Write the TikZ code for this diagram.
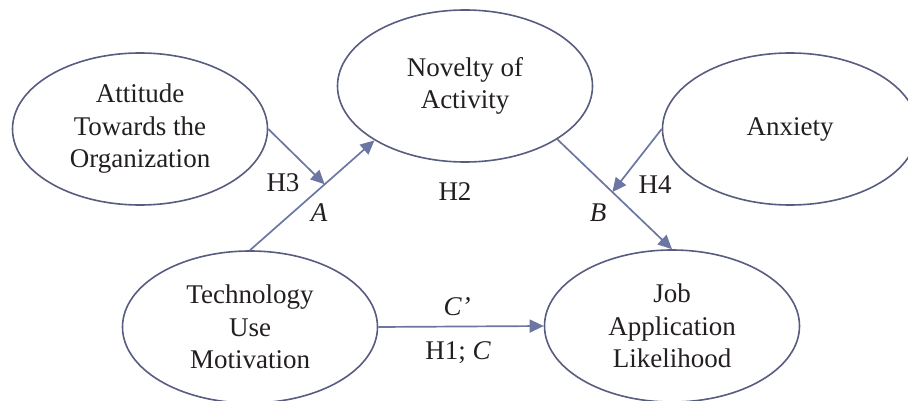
\documentclass[tikz,border=0pt]{standalone}
\usepackage{fontspec}
\setmainfont{Liberation Serif}
\usetikzlibrary{shapes.geometric,arrows.meta,calc}
\definecolor{ellcol}{RGB}{88,92,128}
\definecolor{arrcol}{RGB}{108,118,162}
\definecolor{txtcol}{RGB}{35,31,32}
\tikzset{
  construct/.style={ellipse, draw=ellcol, line width=1.6pt, minimum width=255pt, minimum height=152pt, inner sep=0pt, align=center, text=txtcol, font=\fontsize{27}{32.5}\selectfont},
  link/.style={draw=arrcol, line width=1.7pt, -{Triangle[length=14pt,width=13pt]}},
  lbl/.style={text=txtcol, inner sep=0pt, font=\fontsize{27}{31}\selectfont}
}
\begin{document}
\begin{tikzpicture}[x=1pt,y=-1pt]
\useasboundingbox (0,0) rectangle (908,401);
\clip (0,0) rectangle (908,401);
\node[construct] (att) at (140,129) {Attitude\\Towards the\\Organization};
\node[construct] (nov) at (465,86) {Novelty of\\Activity};
\node[construct] (anx) at (790,129) {Anxiety};
\node[construct] (tech) at (250,327) {Technology\\Use\\Motivation};
\node[construct] (job) at (672,326) {Job\\Application\\Likelihood};
\coordinate (pa) at ($(tech.north)!0.6!(nov.211)$);
\coordinate (pb) at ($(nov.330)!0.48!(job.north)$);
\draw[link] (tech.north) -- (nov.211);
\draw[link] (att.east) -- (pa);
\draw[link] (nov.330) -- (job.north);
\draw[link] (anx.west) -- (pb);
\draw[link] (tech.east) -- (job.west);
\node[lbl] (h3) at (283,183) {H3};
\node[lbl] (la) at (319,213) {\itshape A};
\node[lbl] (h2) at (455,192) {H2};
\node[lbl] (h4) at (655,185) {H4};
\node[lbl] (lb) at (598,213) {\itshape B};
\node[lbl] (lc) at (457,307) {\itshape C’};
\node[lbl] (h1) at (458,353) {H1; \itshape C};
\end{tikzpicture}
\end{document}
